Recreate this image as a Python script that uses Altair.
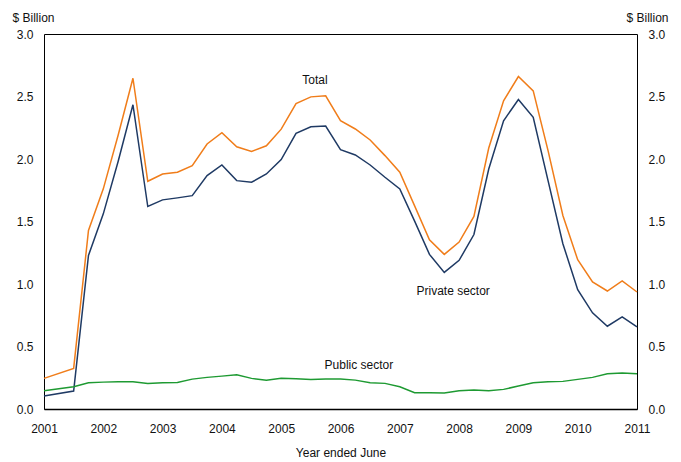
import altair as alt
import pandas as pd

# Quarter positions (year ended June)
periods = [2001.0, 2001.5, 2001.75, 2002.0, 2002.25, 2002.5, 2002.75, 2003.0, 2003.25, 2003.5,
           2003.75, 2004.0, 2004.25, 2004.5, 2004.75, 2005.0, 2005.25, 2005.5, 2005.75, 2006.0,
           2006.25, 2006.5, 2006.75, 2007.0, 2007.25, 2007.5, 2007.75, 2008.0, 2008.25, 2008.5,
           2008.75, 2009.0, 2009.25, 2009.5, 2009.75, 2010.0, 2010.25, 2010.5, 2010.75, 2011.0]

total = [0.245, 0.325, 1.428, 1.761, 2.19, 2.646, 1.822, 1.880, 1.894, 1.947,
         2.120, 2.210, 2.098, 2.061, 2.106, 2.239, 2.444, 2.497, 2.505, 2.306,
         2.24, 2.152, 2.027, 1.894, 1.625, 1.354, 1.237, 1.335, 1.540, 2.088,
         2.466, 2.660, 2.545, 2.067, 1.548, 1.194, 1.016, 0.944, 1.024, 0.936]

private = [0.104, 0.144, 1.229, 1.561, 1.98, 2.434, 1.620, 1.673, 1.689, 1.707,
           1.867, 1.952, 1.827, 1.814, 1.880, 1.995, 2.205, 2.258, 2.263, 2.075,
           2.032, 1.952, 1.854, 1.761, 1.503, 1.237, 1.093, 1.189, 1.396, 1.920,
           2.306, 2.476, 2.333, 1.827, 1.322, 0.955, 0.769, 0.662, 0.737, 0.657]

public = [0.146, 0.178, 0.21, 0.215, 0.218, 0.218, 0.205, 0.21, 0.212, 0.239,
          0.253, 0.263, 0.274, 0.245, 0.231, 0.245, 0.242, 0.237, 0.240, 0.240,
          0.231, 0.210, 0.205, 0.178, 0.130, 0.130, 0.128, 0.146, 0.151, 0.146,
          0.157, 0.184, 0.210, 0.218, 0.221, 0.237, 0.253, 0.282, 0.287, 0.282]

series_names = ["Total", "Private sector", "Public sector"]
series_colors = ["#F07D1A", "#1F3A64", "#1E9A32"]

x_ticks = [2001, 2002, 2003, 2004, 2005, 2006, 2007, 2008, 2009, 2010, 2011]
y_ticks = [0.0, 0.5, 1.0, 1.5, 2.0, 2.5, 3.0]

# Series labels placed in data space
label_text = ["Total", "Private sector", "Public sector"]
label_x = [2005.57, 2007.9, 2006.31]
label_y = [2.63, 0.944, 0.352]

rows = []
for name, vals in zip(series_names, [total, private, public]):
    for p, v in zip(periods, vals):
        rows.append({"period": p, "value": v, "series": name})
df = pd.DataFrame(rows)
ann = pd.DataFrame({"text": label_text, "period": label_x, "value": label_y})

FONT = "Liberation Sans"
xscale = alt.Scale(domain=[2001, 2011], nice=False, zero=False)
yscale = alt.Scale(domain=[0, 3], nice=False)

lines = alt.Chart(df).mark_line(strokeWidth=1.5).encode(
    x=alt.X("period:Q", scale=xscale,
            axis=alt.Axis(values=x_ticks, format="d", title="Year ended June",
                          tickSize=0, labelPadding=14, titlePadding=13, grid=False,
                          labelFlush=False, labelOverlap=False,
                          domainColor="#000000", domainWidth=1.5)),
    y=alt.Y("value:Q", scale=yscale,
            axis=alt.Axis(values=y_ticks, format=".1f", orient="left", title="$ Billion",
                          titleAngle=0, titleAlign="left", titleBaseline="middle",
                          titleX=-32, titleY=-17, tickSize=0, labelPadding=11,
                          labelFlush=False, grid=False, domain=False)),
    color=alt.Color("series:N", scale=alt.Scale(domain=series_names, range=series_colors),
                    legend=None),
)

right = alt.Chart(df).mark_line(opacity=0).encode(
    x=alt.X("period:Q", scale=xscale),
    y=alt.Y("value:Q", scale=yscale,
            axis=alt.Axis(values=y_ticks, format=".1f", orient="right", title="$ Billion",
                          titleAngle=0, titleAlign="right", titleBaseline="middle",
                          titleX=31, titleY=-17, tickSize=0, labelPadding=11,
                          labelFlush=False, grid=False, domain=False)),
)

labels = alt.Chart(ann).mark_text(font=FONT, fontSize=12, color="#111111").encode(
    x=alt.X("period:Q", scale=xscale),
    y=alt.Y("value:Q", scale=yscale, axis=None),
    text="text:N",
)

chart = alt.layer(lines, labels, right).resolve_scale(y="independent").properties(
    width=593, height=375,
    background="white",
    autosize=alt.AutoSizeParams(type="none"),
    padding={"left": 36, "top": 26, "right": 36, "bottom": 55},
).configure_view(
    stroke="#000000", strokeWidth=1
).configure_axis(
    labelFont=FONT, titleFont=FONT, labelFontSize=12, titleFontSize=12,
    labelColor="#111111", titleColor="#111111", titleFontWeight="normal",
)

chart.save("out.html", embed_options={"renderer": "svg", "actions": False})
